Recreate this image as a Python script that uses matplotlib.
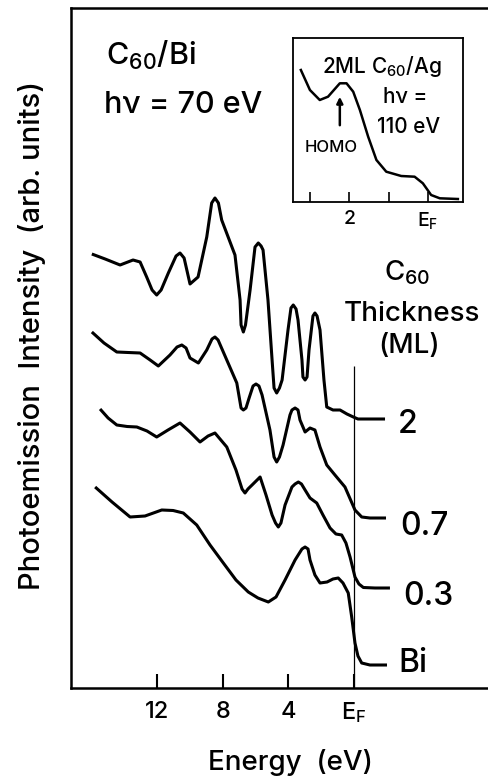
import matplotlib
matplotlib.use("Agg")
import matplotlib.pyplot as plt

FONT = 'Inter'
plt.rcParams['font.family'] = [FONT, 'Liberation Sans', 'DejaVu Sans']
plt.rcParams['font.weight'] = 'medium'
plt.rcParams['mathtext.fontset'] = 'custom'
plt.rcParams['mathtext.rm'] = FONT + ':medium'
plt.rcParams['mathtext.it'] = FONT + ':italic'
plt.rcParams['mathtext.bf'] = FONT + ':bold'
plt.rcParams['mathtext.default'] = 'regular'

# ---------------- data (binding energy in eV, intensity in arb. units) ----------------
ml2_E = [15.97, 15.16, 14.25, 13.46, 13.03, 12.63, 12.30, 12.02, 11.75, 11.31, 10.84, 10.60,
         10.35, 9.99, 9.50, 8.97, 8.67, 8.47, 8.26, 8.06, 7.25, 6.94, 6.88, 6.74, 6.61, 6.33,
         6.03, 5.83, 5.66, 5.54, 5.24, 4.99, 4.87, 4.71, 4.54, 4.38, 4.02, 3.84, 3.70, 3.53,
         3.41, 3.17, 3.11, 2.98, 2.86, 2.74, 2.50, 2.38, 2.25, 2.07, 1.83, 1.66, 1.28,
         0.85, 0.43, 0.04, -0.24, -1.89]
ml2_I = [434, 429, 423, 428, 426, 411, 398, 393, 398, 415, 432, 435,
         430, 404, 411, 451, 485, 490, 485, 468, 433, 388, 363, 356, 363, 398,
         441, 445, 442, 438, 388, 328, 300, 295, 300, 308, 358, 380, 383, 379,
         368, 328, 311, 308, 311, 338, 372, 375, 372, 358, 308, 281, 278,
         278, 274, 271, 269, 269]

ml07_E = [15.97, 15.23, 14.45, 13.76, 13.03, 12.42, 11.92, 11.21, 10.78, 10.49, 10.23, 9.99,
          9.48, 8.97, 8.65, 8.47, 8.28, 7.75, 7.14, 6.88, 6.74, 6.58, 6.39, 6.15, 5.97, 5.79,
          5.60, 5.12, 4.87, 4.71, 4.54, 4.32, 3.90, 3.78, 3.59, 3.41, 3.29, 2.98, 2.68, 2.38,
          2.07, 1.66, 1.16, 0.55, -0.06, -0.47, -0.97, -1.95]
ml07_I = [356, 345, 336, 335.5, 335, 328, 322, 333, 341, 343, 340, 330,
          325, 338, 349, 351, 348, 328, 305, 280, 278, 280, 290, 302, 304, 302,
          293, 258, 231, 226, 231, 243, 273, 278, 280, 278, 268, 256, 260, 258,
          241, 223, 213, 201, 178, 171, 170, 170]

ml03_E = [15.47, 14.98, 14.45, 13.82, 13.23, 12.61, 12.02, 11.33, 10.60, 9.99, 9.38, 8.89,
          8.47, 7.75, 7.19, 6.82, 6.64, 6.46, 6.21, 5.72, 5.36, 4.99, 4.78, 4.61, 4.45, 4.20,
          3.78, 3.59, 3.39, 3.20, 2.98, 2.68, 2.27, 1.89, 1.46, 1.10, 0.75, 0.49, 0.24, -0.06,
          -0.30, -0.57, -1.28, -2.19]
ml03_I = [279, 270, 263, 261.5, 261, 257, 251, 258, 265, 256, 246, 252,
          255, 241, 218, 199, 195, 199, 203, 211, 193, 173, 165, 161, 165, 183,
          201, 204, 206, 204, 198, 190, 185, 173, 160, 154, 153, 145, 131, 111,
          104, 100.5, 100, 100]

bi_E = [15.77, 14.74, 13.64, 12.73, 11.71, 11.02, 10.40, 9.58, 8.77, 7.96, 7.19, 6.44,
        5.85, 5.22, 4.75, 4.20, 3.59, 3.17, 2.98, 2.80, 2.68, 2.38, 2.07, 1.64, 1.28, 0.96,
        0.67, 0.35, 0.14, -0.06, -0.24, -0.47, -0.97, -2.01]
bi_I = [201, 186, 171, 172, 178, 177.5, 175, 163, 143, 125, 108, 96,
        90, 86, 91, 108, 128, 139, 141, 139, 128, 113, 105, 106, 109, 110,
        105, 95, 71, 45, 32, 25, 23, 23]

curve_labels = ['2', '0.7', '0.3', 'Bi']

main_ticks = [12, 8, 4, 0]
main_ticklabels = ['12', '8', '4', r'E$_F$']

ag_E = [3.23, 3.00, 2.75, 2.54, 2.24, 2.07, 1.90, 1.73, 1.52, 1.31, 1.06, 0.68, 0.34,
        0.13, -0.08, -0.30, -0.76]
ag_I = [132, 112, 102, 105.3, 118.7, 118.7, 110.3, 92, 65.3, 42, 30.3, 26, 25.3,
        18.7, 7, 3.7, 3]
inset_ticks = [3, 2, 1, 0]
inset_ticklabels = ['', '2', '', r'E$_F$']
homo_E = 2.24

# ---------------- figure ----------------
W, H = 489, 780
fig = plt.figure(figsize=(W / 100, H / 100), dpi=100)


def P(x, y):
    return (x / W, 1 - y / H)


ax = fig.add_axes([71 / W, 1 - 688 / H, (495 - 71) / W, 680 / H])
ax.set_xlim(17.24, -8.59)
ax.set_ylim(0, 680)
for s in ['left', 'bottom', 'top', 'right']:
    ax.spines[s].set_linewidth(1.8)
ax.set_yticks([])
ax.set_xticks(main_ticks)
ax.set_xticklabels(main_ticklabels)
ax.tick_params(axis='x', direction='in', length=10, width=1.5, labelsize=17, pad=9)

lw = 2.2
for E, I in [(ml2_E, ml2_I), (ml07_E, ml07_I), (ml03_E, ml03_I), (bi_E, bi_I)]:
    ax.plot(E, I, color='black', lw=lw, solid_joinstyle='round', solid_capstyle='butt')

ax.vlines(0, 0, 322, color='black', lw=0.9)

label_pos = [(398, 433), (400, 535), (403, 605), (398, 672)]
for lab, (x, y) in zip(curve_labels, label_pos):
    fig.text(*P(x, y), lab, fontsize=23, ha='left', va='baseline')

fig.text(*P(106, 65), r'C$_{60}$/Bi', fontsize=22, ha='left', va='baseline')
fig.text(*P(104, 113), 'hν = 70 eV', fontsize=22, ha='left', va='baseline')

fig.text(*P(407, 280), r'C$_{60}$', fontsize=20, ha='center', va='baseline')
fig.text(*P(412, 321), 'Thickness', fontsize=20, ha='center', va='baseline')
fig.text(*P(409, 353), '(ML)', fontsize=20, ha='center', va='baseline')

fig.text(*P(290, 770), 'Energy  (eV)', fontsize=20, ha='center', va='baseline')
fig.text(*P(32, 336), 'Photoemission  Intensity  (arb. units)', fontsize=21,
         rotation=90, ha='center', va='center')

# ---------------- inset ----------------
axi = fig.add_axes([293 / W, 1 - 202 / H, 170 / W, 164 / H])
axi.set_xlim(3.43, -0.89)
axi.set_ylim(0, 164)
for s in ['left', 'bottom', 'top', 'right']:
    axi.spines[s].set_linewidth(1.3)
axi.set_yticks([])
axi.set_xticks(inset_ticks)
axi.set_xticklabels(inset_ticklabels)
axi.tick_params(axis='x', direction='in', length=7, width=1.2, labelsize=14, pad=6)
axi.plot(ag_E, ag_I, color='black', lw=1.8, solid_joinstyle='round')
axi.annotate('', xy=(homo_E, 108), xytext=(homo_E, 74),
             arrowprops=dict(arrowstyle='-|>', color='black', lw=1.8, mutation_scale=9))

fig.text(*P(382, 73), r'2ML C$_{60}$/Ag', fontsize=15, ha='center', va='baseline')
fig.text(*P(405, 103), 'hν =', fontsize=15, ha='center', va='baseline')
fig.text(*P(409, 133), '110 eV', fontsize=15, ha='center', va='baseline')
fig.text(*P(331, 152), 'HOMO', fontsize=12, ha='center', va='baseline')

fig.savefig('out.png', dpi=100)
